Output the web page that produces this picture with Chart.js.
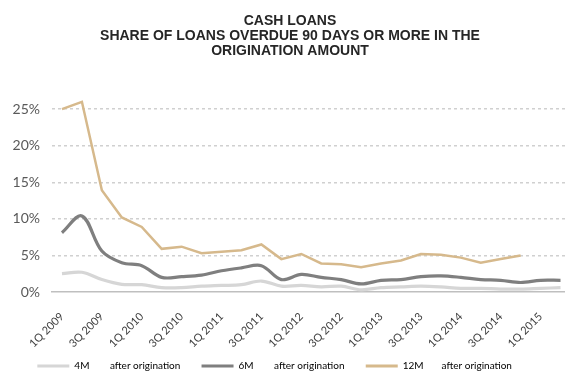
<!DOCTYPE html>
<html>
<head>
<meta charset="utf-8">
<script src="https://cdn.jsdelivr.net/npm/chart.js@4"></script>
<style>
  html, body { margin: 0; padding: 0; background: #fff; overflow: hidden; }
  #wrap { width: 580px; height: 372px; }
</style>
</head>
<body>
<div id="wrap"><canvas id="loansChart" width="580" height="372"></canvas></div>
<script>
// Quarters shown on the x axis
const quarters = [
    '1Q 2009', '2Q 2009', '3Q 2009', '4Q 2009',
    '1Q 2010', '2Q 2010', '3Q 2010', '4Q 2010',
    '1Q 2011', '2Q 2011', '3Q 2011', '4Q 2011',
    '1Q 2012', '2Q 2012', '3Q 2012', '4Q 2012',
    '1Q 2013', '2Q 2013', '3Q 2013', '4Q 2013',
    '1Q 2014', '2Q 2014', '3Q 2014', '4Q 2014',
    '1Q 2015', '2Q 2015'
];

// Share overdue 90+ days, in percent
const overdue4M = [2.5, 2.7, 1.7, 1.05, 1.0, 0.6, 0.6, 0.8, 0.9, 1.0, 1.5, 0.8, 0.9, 0.7, 0.8, 0.3,
    0.6, 0.7, 0.8, 0.7, 0.5, 0.5, 0.4, 0.4, 0.5, 0.6];
const overdue6M = [8.1, 10.4, 5.6, 4.0, 3.6, 2.0, 2.1, 2.3, 2.9, 3.3, 3.6, 1.7, 2.4, 2.0, 1.7, 1.1,
    1.6, 1.7, 2.1, 2.2, 2.0, 1.7, 1.6, 1.3, 1.6, 1.6];
const overdue12M = [25.0, 26.0, 13.9, 10.2, 8.9, 5.9, 6.2, 5.3, 5.5, 5.7, 6.5, 4.5, 5.2, 3.9, 3.8, 3.4,
    3.9, 4.3, 5.2, 5.1, 4.7, 4.0, 4.5, 5.0, null, null];

const yTicks = [0, 5, 10, 15, 20, 25];

const titleLines = [
    'CASH LOANS',
    'SHARE OF LOANS OVERDUE 90 DAYS OR MORE IN THE',
    'ORIGINATION AMOUNT'
];

// trailing spaces widen the gaps and push the centred legend a bit to the left, as in the picture
const seriesNames = ['4M        after origination    ', '6M        after origination    ', '12M       after origination            '];
const seriesColors = ['#d6d6d6', '#7f7f7f', '#d6b98c'];

const ctx = document.getElementById('loansChart').getContext('2d');
const loansChart = new Chart(ctx, {
    type: 'line',
    data: {
        labels: quarters,
        datasets: [
            { label: seriesNames[0], data: overdue4M, borderColor: seriesColors[0], borderWidth: 3.2, tension: 0.35 },
            { label: seriesNames[1], data: overdue6M, borderColor: seriesColors[1], borderWidth: 3.2, tension: 0.35 },
            { label: seriesNames[2], data: overdue12M, borderColor: seriesColors[2], borderWidth: 2.5, tension: 0 }
        ]
    },
    options: {
        responsive: false,
        animation: false,
        layout: { padding: { left: 8, right: 8, top: 0, bottom: -9 } },
        elements: { point: { radius: 0 } },
        plugins: {
            title: {
                display: true,
                text: titleLines,
                color: '#262626',
                font: { family: 'Liberation Sans', size: 14, weight: 'bold', lineHeight: 1.1 },
                padding: { top: 13, bottom: 28 }
            },
            legend: {
                position: 'bottom',
                labels: {
                    boxWidth: 32,
                    boxHeight: 3,
                    padding: 11,
                    color: '#595959',
                    font: { family: 'Lato', size: 10 },
                    generateLabels: chart => chart.data.datasets.map((ds, i) => ({
                        text: ds.label,
                        fillStyle: ds.borderColor,
                        strokeStyle: ds.borderColor,
                        lineWidth: 0,
                        datasetIndex: i
                    }))
                }
            },
            tooltip: { enabled: false }
        },
        scales: {
            x: {
                offset: true,
                grid: { display: false },
                border: { display: true, color: '#bfbfbf', width: 1.5 },
                ticks: {
                    autoSkip: false,
                    minRotation: 45,
                    maxRotation: 45,
                    padding: 10,
                    color: '#404040',
                    font: { family: 'Lato', size: 11 },
                    callback: (value, index) => index % 2 === 0 ? quarters[index] : ''
                },
                afterFit: scale => { scale.height = 58; }
            },
            y: {
                min: 0,
                max: 28,
                afterBuildTicks: scale => { scale.ticks = yTicks.map(v => ({ value: v })); },
                grid: {
                    color: c => c.tick && c.tick.value === 0 ? 'rgba(0,0,0,0)' : '#d0d0d0',
                    lineWidth: 1.5,
                    drawTicks: false
                },
                border: { display: false, dash: [3, 3] },
                ticks: {
                    padding: 12,
                    color: '#595959',
                    font: { family: 'Lato', size: 14 },
                    callback: value => value + '%'
                },
                afterFit: scale => { scale.width = 44; }
            }
        }
    }
});
</script>
</body>
</html>
